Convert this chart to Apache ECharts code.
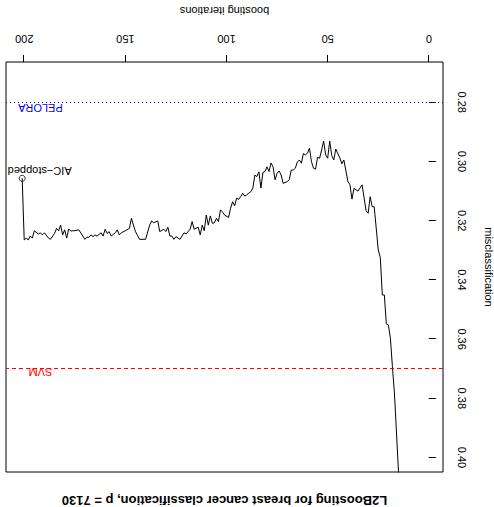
<!DOCTYPE html>
<html><head><meta charset="utf-8">
<script src="https://cdn.jsdelivr.net/npm/echarts@6/dist/echarts.min.js"></script>
<style>
html,body{margin:0;padding:0;background:#fff;overflow:hidden;}
#chart{width:494px;height:507px;transform:rotate(180deg);transform-origin:50% 50%;}
</style></head><body><div id="chart"></div>
<script>
// ---- data ----
const titleText = 'L2Boosting for breast cancer classification, p = 7130';
const xName = 'boosting iterations';
const yName = 'misclassification';
const xTicks = [0, 50, 100, 150, 200];
const yTicks = [0.28, 0.30, 0.32, 0.34, 0.36, 0.38, 0.40];
const iterations = [201,200,199,198,197,196,195,193,192,191,190,188,187,185,184,183,182,181,180,179,178,177,176,175,173,171,170,169,168,167,166,165,164,162,161,160,159,158,157,155,154,153,152,150,148,147,146,145,144,143,140,138,137,136,134,133,131,130,129,128,127,126,125,123,121,120,118,117,116,114,113,112,111,110,109,108,107,106,105,104,103,102,101,99,98,97,96,95,94,93,92,91,90,89,88,87,86,85,84,83,82,81,80,79,78,77,76,75,74,73,72,70,69,68,67,66,65,64,63,62,61,60,59,58,57,56,55,54,53,52,51,50,49,48,47,46,44,43,42,40,39,38,37,35,33,31,30,29,28,27,25,24,23,22,21,20,19,18,17,15,14];
const misclassification = [0.3057,0.3265,0.3259,0.3265,0.3252,0.3259,0.3234,0.3245,0.3241,0.3248,0.3241,0.3259,0.3263,0.3243,0.3226,0.3234,0.3215,0.3248,0.3231,0.3259,0.3228,0.3235,0.3234,0.3234,0.3231,0.3252,0.3263,0.3256,0.3256,0.3248,0.3254,0.3248,0.3252,0.3241,0.3252,0.3229,0.3243,0.3237,0.3252,0.3241,0.3231,0.3248,0.3241,0.3234,0.3226,0.3192,0.3215,0.3237,0.3250,0.3263,0.3263,0.3215,0.3201,0.3207,0.3201,0.3237,0.3229,0.3237,0.3222,0.3252,0.3252,0.3263,0.3254,0.3263,0.3241,0.3245,0.3229,0.3203,0.3229,0.3222,0.3248,0.3215,0.3234,0.3181,0.3215,0.3184,0.3209,0.3207,0.3192,0.3203,0.3164,0.3170,0.3181,0.3189,0.3158,0.3136,0.3150,0.3124,0.3128,0.3119,0.3107,0.3117,0.3113,0.3107,0.3102,0.3090,0.3046,0.3051,0.3035,0.3090,0.3037,0.3034,0.3018,0.3034,0.3005,0.3018,0.3062,0.3040,0.3032,0.3046,0.3074,0.3068,0.3062,0.3029,0.3029,0.3023,0.3002,0.2995,0.3006,0.2973,0.2978,0.2972,0.2955,0.3001,0.3023,0.3026,0.2986,0.2989,0.2961,0.2931,0.2978,0.2989,0.2931,0.2980,0.2995,0.2958,0.2988,0.3008,0.2995,0.3068,0.3078,0.3127,0.3091,0.3100,0.3079,0.3167,0.3175,0.3119,0.3153,0.3153,0.3299,0.3324,0.3451,0.3451,0.3549,0.3552,0.3597,0.3693,0.3783,0.4048,0.4180];
const refLabels = ['PELORA', 'SVM'];
const refValues = [0.2795, 0.3686];
const refColors = ['blue', 'red'];
const aicLabel = 'AIC\u2212stopped';
const aicIndex = 0; // stopping iteration is the first entry

// ---- chart ----
const FONT = '"Liberation Sans", Arial, Helvetica, sans-serif';
const chart = echarts.init(document.getElementById('chart'), null, {renderer: 'svg'});
const lineData = iterations.map((it, i) => [it, misclassification[i]]);

chart.setOption({
  animation: false,
  backgroundColor: '#fff',
  grid: {left: 51, right: 6, top: 35, bottom: 62, show: true, borderColor: '#000', borderWidth: 1,
         backgroundColor: 'transparent', containLabel: false, outerBoundsMode: 'none'},
  xAxis: {
    type: 'value', min: -7, max: 209,
    name: xName, nameLocation: 'middle', nameGap: 46,
    nameTextStyle: {color: '#000', fontSize: 11, fontFamily: FONT},
    axisLine: {show: false},
    axisTick: {show: true, inside: false, length: 7, customValues: xTicks, lineStyle: {color: '#000', width: 1}},
    axisLabel: {customValues: xTicks, margin: 18, color: '#000', fontSize: 11, fontFamily: FONT},
    splitLine: {show: false}
  },
  yAxis: {
    type: 'value', min: 0.2664, max: 0.4049,
    name: yName, nameLocation: 'middle', nameGap: 40, nameRotate: 90,
    nameTextStyle: {color: '#000', fontSize: 11, fontFamily: FONT},
    axisLine: {show: false},
    axisTick: {show: true, inside: false, length: 7, customValues: yTicks, lineStyle: {color: '#000', width: 1}},
    axisLabel: {customValues: yTicks, rotate: 90, margin: 13, color: '#000', fontSize: 11, fontFamily: FONT,
                formatter: v => v.toFixed(2)},
    splitLine: {show: false}
  },
  series: [
    {
      type: 'line', data: lineData, symbol: 'none', clip: true,
      lineStyle: {color: '#000', width: 1},
      markLine: {
        silent: true, symbol: ['none', 'none'], label: {show: false},
        data: refValues.map((v, i) => ({yAxis: v, lineStyle: {color: refColors[i], width: 1, type: i === 0 ? [1, 3] : [4, 3]}}))
      }
    },
    {
      type: 'scatter', data: [[iterations[aicIndex], misclassification[aicIndex]]],
      symbol: 'circle', symbolSize: 6,
      itemStyle: {color: 'rgba(0,0,0,0)', borderColor: '#000', borderWidth: 1}
    }
  ]
});

// text annotations positioned through the axes
const labelIter = 192;
const graphics = [];
refLabels.forEach((t, i) => {
  const p = chart.convertToPixel({gridIndex: 0}, [labelIter, refValues[i]]);
  graphics.push({type: 'text', x: p[0], y: p[1] - 7,
    style: {text: t, fill: refColors[i], font: '11px ' + FONT, textAlign: 'center', textVerticalAlign: 'middle'}});
});
const pa = chart.convertToPixel({gridIndex: 0}, [iterations[aicIndex], misclassification[aicIndex]]);
graphics.push({type: 'text', x: pa[0] - 17.5, y: pa[1] + 7,
  style: {text: aicLabel, fill: '#000', font: '11px ' + FONT, textAlign: 'center', textVerticalAlign: 'middle'}});
const pt = chart.convertToPixel({gridIndex: 0}, [101, 0.3]);
graphics.push({type: 'text', x: pt[0], y: 7,
  style: {text: titleText, fill: '#000', font: 'bold 13px ' + FONT, textAlign: 'center', textVerticalAlign: 'middle'}});
chart.setOption({graphic: graphics});
</script></body></html>
